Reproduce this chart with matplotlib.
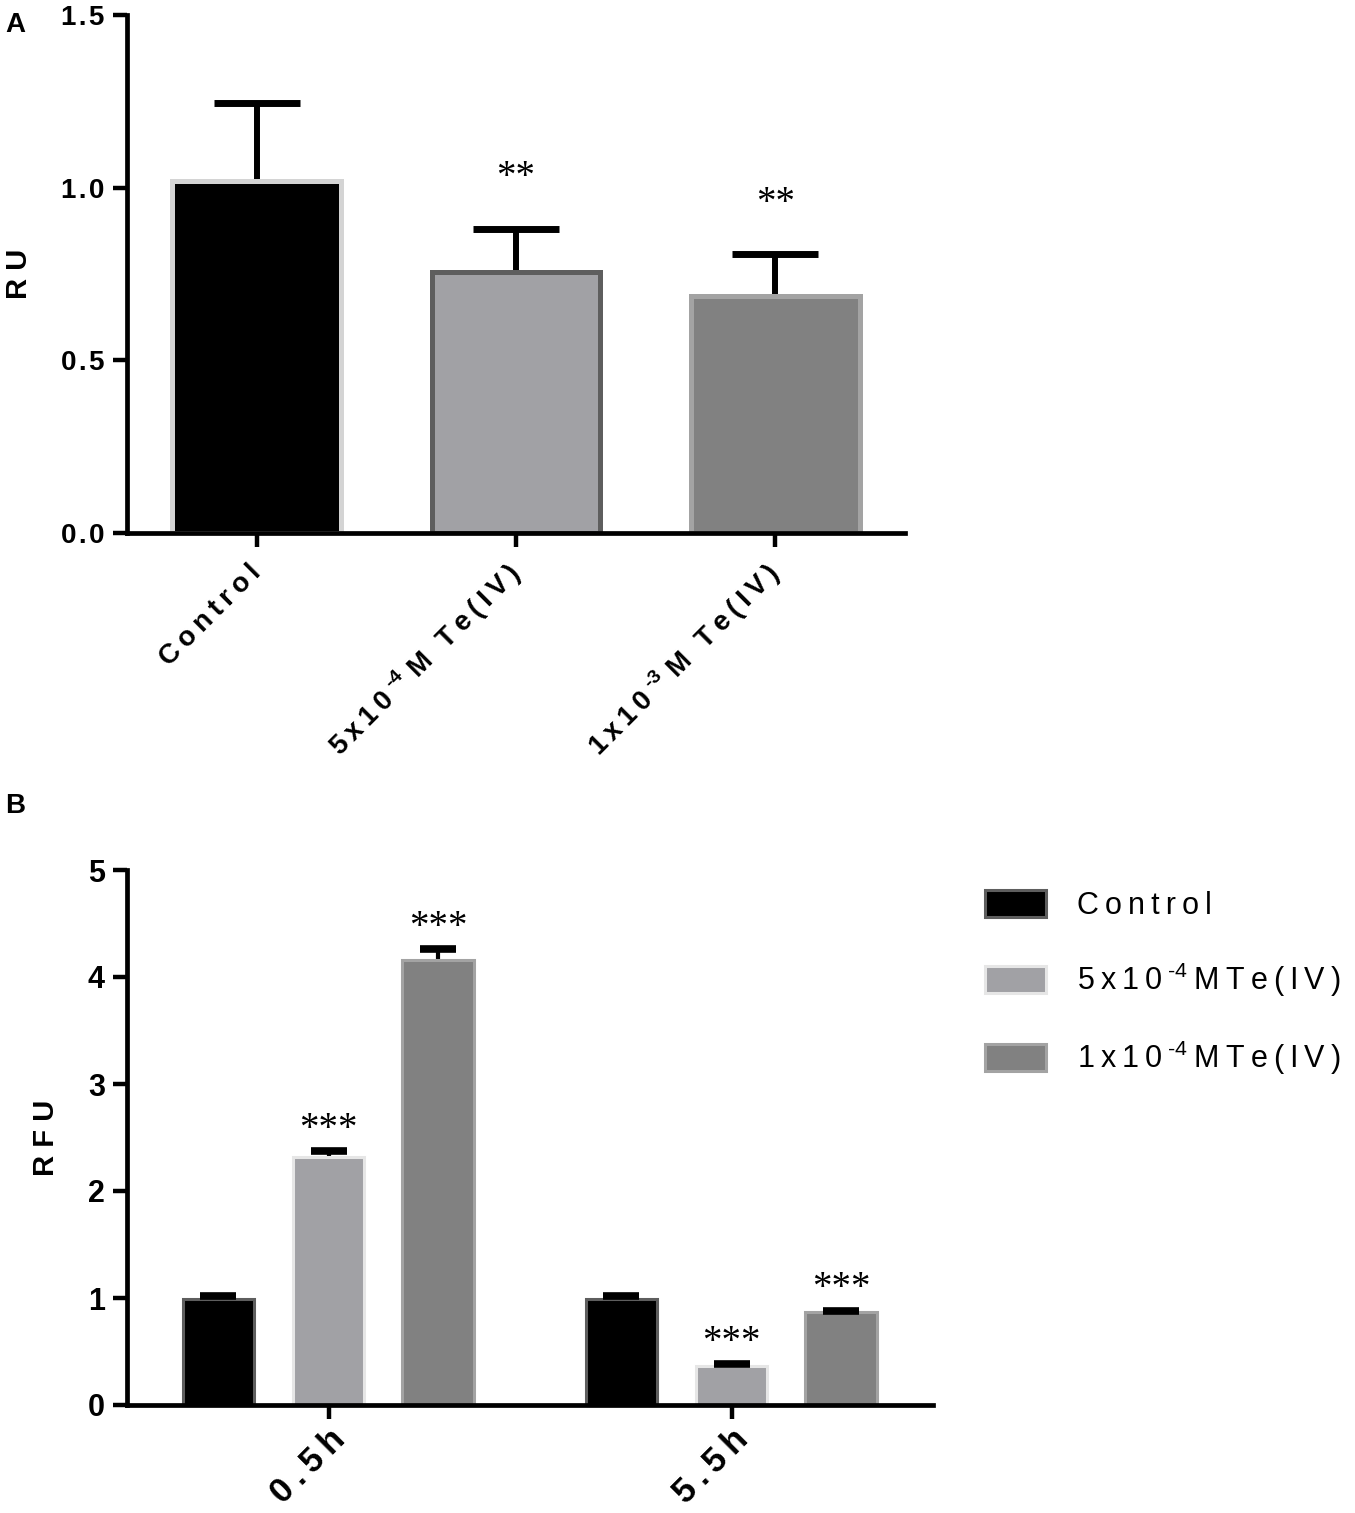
import matplotlib
matplotlib.use("Agg")
import matplotlib.pyplot as plt
import matplotlib.transforms as mtrans
from matplotlib.patches import Patch
import numpy as np

# ── data ──────────────────────────────────────────────────────────
a_labels = ["Control", "5x10|-4|M Te(IV)", "1x10|-3|M Te(IV)"]
a_mean = [1.02, 0.757, 0.687]
a_err = [0.225, 0.123, 0.12]
a_stars = ["", "**", "**"]
a_yticks = [0.0, 0.5, 1.0, 1.5]

b_groups = ["0.5h", "5.5h"]
b_series = ["Control", "5x10|-4|MTe(IV)", "1x10|-4|MTe(IV)"]
b_mean = [[0.995, 0.995], [2.32, 0.36], [4.16, 0.87]]
b_err = [[0.025, 0.02], [0.05, 0.02], [0.10, 0.01]]
b_stars = [["", ""], ["***", "***"], ["***", "***"]]
b_yticks = [0, 1, 2, 3, 4, 5]

# ── styles ────────────────────────────────────────────────────────
plt.rcParams["font.family"] = ["Liberation Sans", "DejaVu Sans"]
plt.rcParams["mathtext.fontset"] = "custom"
plt.rcParams["mathtext.rm"] = "Liberation Sans"
TS = "\u2009"

def spaced(s, sp=TS):
    return sp.join(s)

def sup_label(s, sep=" "):
    parts = s.split("|")
    if len(parts) == 1:
        return spaced(s)
    sup = parts[1].replace("-", "\u2010")
    return (spaced(parts[0]) + TS + r"$^{\mathregular{" + sup + "}}$" + sep
            + spaced(parts[2]))

fills = ["#000000", "#a1a1a5", "#818181"]
edges_a = ["#d4d4d4", "#5e5e5e", "#a3a3a3"]
edges_b = ["#5e5e5e", "#e6e6e6", "#a3a3a3"]

W, H = 1355, 1513
fig = plt.figure(figsize=(W / 100, H / 100), dpi=100)

def px_axes(l, r, t, b):
    return fig.add_axes([l / W, 1 - b / H, (r - l) / W, (b - t) / H])

def style_axes(ax, ysize):
    for s in ["top", "right"]:
        ax.spines[s].set_visible(False)
    for s in ["left", "bottom"]:
        ax.spines[s].set_linewidth(3.4)
        ax.spines[s].set_zorder(5)
    ax.tick_params(width=3.2, length=10)
    ax.tick_params(axis="y", labelsize=ysize, pad=6)
    for t in ax.get_yticklabels():
        t.set_fontweight("bold")

def up_errors(ax, x, m, e, lw, cap, capw):
    # stem behind the bar, cap on top
    ax.errorbar(x, m, yerr=[np.zeros(len(m)), e], fmt="none", ecolor="black",
                elinewidth=lw, capsize=0, zorder=1)
    ax.plot(x, np.add(m, e), ls="none", marker="_", ms=cap, mew=capw,
            color="black", zorder=3)

def stars(ax, x, top, s, dy):
    for xi, ti, si in zip(x, top, s):
        if si:
            ax.annotate(si, (xi, ti), xytext=(0, dy), textcoords="offset points",
                        ha="center", va="baseline", fontsize=28,
                        family="Liberation Serif")

# ── panel A ───────────────────────────────────────────────────────
ax = px_axes(127, 905, 15, 533)
xa = np.arange(len(a_mean))
ax.bar(xa, a_mean, width=0.65, color=fills, edgecolor=edges_a, linewidth=3.6, zorder=2)
up_errors(ax, xa, a_mean, a_err, 4.3, 62, 5)
stars(ax, xa, np.add(a_mean, a_err), a_stars, 30)
ax.set_xlim(-0.5, 2.5)
ax.set_ylim(0, 1.5)
ax.set_yticks(a_yticks)
ax.set_yticklabels([spaced(f"{v:.1f}", "\u200a") for v in a_yticks])
ax.set_xticks(xa)
ax.set_xticklabels([sup_label(l) for l in a_labels], rotation=45, ha="right",
                   va="center", rotation_mode="anchor", fontweight="bold", fontsize=20)
style_axes(ax, 20)
ax.tick_params(axis="x", pad=16)
ax.set_ylabel("R U", fontsize=21, fontweight="bold")
ax.yaxis.set_label_coords(-0.121, 0.5)

# ── panel B ───────────────────────────────────────────────────────
bx = px_axes(127, 933, 870, 1405)
xb = np.arange(len(b_groups))
off = [-0.273, 0.0, 0.272]
handles = []
for i in range(3):
    bx.bar(xb + off[i], b_mean[i], width=0.177, color=fills[i], edgecolor=edges_b[i],
           linewidth=2.2, zorder=2)
    up_errors(bx, xb + off[i], b_mean[i], b_err[i], 3, 26, 5.5)
    stars(bx, xb + off[i], np.add(b_mean[i], b_err[i]), b_stars[i], 9)
    handles.append(Patch(facecolor=fills[i], edgecolor=edges_b[i], linewidth=2.2))
bx.set_xlim(-0.5, 1.5)
bx.set_ylim(0, 5)
bx.set_yticks(b_yticks)
bx.set_xticks(xb)
bx.set_xticklabels([spaced(g) for g in b_groups], rotation=45, ha="right",
                   va="center", rotation_mode="anchor", fontweight="bold", fontsize=25)
style_axes(bx, 22)
bx.tick_params(axis="x", pad=11)
shift = mtrans.ScaledTranslation(12 / 100, 0, fig.dpi_scale_trans)
for t in bx.get_xticklabels():
    t.set_transform(t.get_transform() + shift)
bx.set_ylabel("R F U", fontsize=21, fontweight="bold")
bx.yaxis.set_label_coords(-0.083, 0.5)

fig.legend(handles, [sup_label(s, sep=TS) for s in b_series], loc="upper left",
           bbox_to_anchor=(985 / W, 1 - 890 / H), frameon=False, fontsize=22,
           handlelength=2.0, handleheight=1.0, handletextpad=1.0,
           labelspacing=1.3, borderpad=0, borderaxespad=0)

# ── panel letters ─────────────────────────────────────────────────
fig.text(5 / W, 1 - 12 / H, "A", fontsize=20, fontweight="bold", va="top")
fig.text(5 / W, 1 - 793 / H, "B", fontsize=20, fontweight="bold", va="top")

fig.savefig("out.png", dpi=100)
